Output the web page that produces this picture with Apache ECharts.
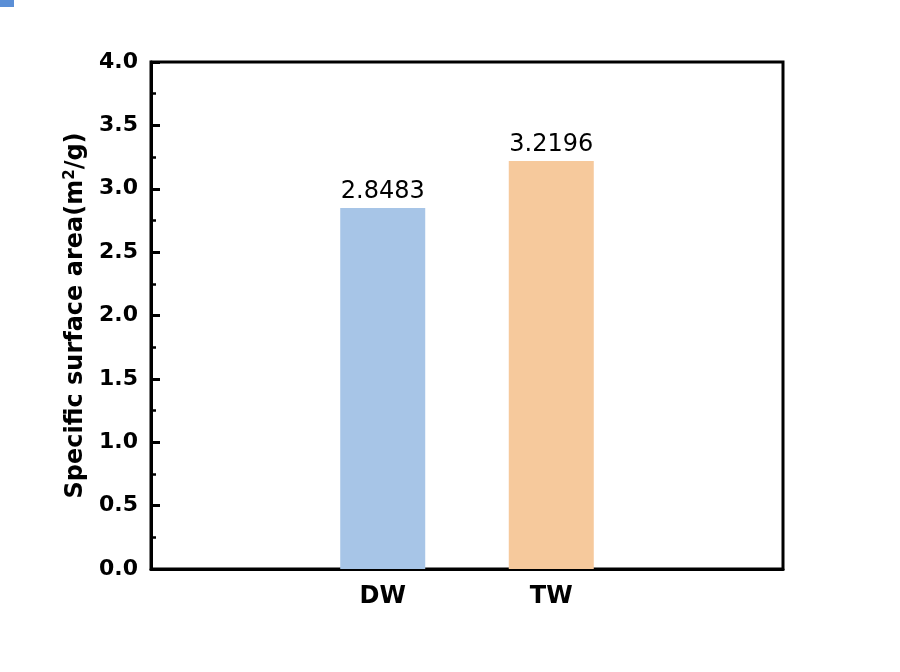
<!DOCTYPE html>
<html>
<head>
<meta charset="utf-8">
<script src="https://cdn.jsdelivr.net/npm/echarts@6/dist/echarts.min.js"></script>
<style>
  html, body { margin: 0; padding: 0; background: #fff; }
  #chart { width: 900px; height: 672px; }
</style>
</head>
<body>
<div id="chart"></div>
<script>
const categories = ['DW', 'TW'];
const positions = [1, 2];
const values = [2.8483, 3.2196];
const barColors = ['#a7c5e7', '#f6c99c'];

const font = 'DejaVu Sans';
const chart = echarts.init(document.getElementById('chart'));

chart.setOption({
  animation: false,
  backgroundColor: '#fff',
  graphic: [{
    type: 'rect',
    left: 0, top: 0,
    shape: {width: 14, height: 7},
    style: {fill: '#5b8fd6'}
  }],
  grid: {
    left: 151, right: 117, top: 62, bottom: 103,
    show: true,
    borderColor: '#000',
    borderWidth: 3,
    backgroundColor: 'transparent'
  },
  xAxis: {
    type: 'value',
    min: -0.375,
    max: 3.375,
    splitLine: {show: false},
    axisLine: {show: true, onZero: false, lineStyle: {color: '#000', width: 3}},
    axisTick: {show: false},
    axisLabel: {
      customValues: positions,
      formatter: v => categories[positions.indexOf(v)] || '',
      color: '#000',
      fontFamily: font,
      fontWeight: 'bold',
      fontSize: 24,
      margin: 16
    }
  },
  yAxis: {
    type: 'value',
    min: 0,
    max: 4,
    interval: 0.5,
    name: 'Specific surface area(m{sup|2}/g)',
    nameLocation: 'middle',
    nameGap: 56,
    nameTextStyle: {
      color: '#000',
      fontFamily: font,
      fontWeight: 'bold',
      fontSize: 24,
      rich: {
        sup: {fontFamily: font, fontWeight: 'bold', fontSize: 15, verticalAlign: 'top', padding: [0, 0, 12, 0]}
      }
    },
    splitLine: {show: false},
    axisLine: {show: true, onZero: false, lineStyle: {color: '#000', width: 3}},
    axisTick: {show: true, inside: true, length: 9, lineStyle: {color: '#000', width: 3}},
    minorTick: {show: true, splitNumber: 2, length: 5, lineStyle: {color: '#000', width: 2.5}},
    axisLabel: {
      color: '#000',
      fontFamily: font,
      fontWeight: 'bold',
      fontSize: 22,
      margin: 13,
      formatter: v => v.toFixed(1)
    }
  },
  series: [{
    type: 'bar',
    barWidth: 85,
    data: positions.map((p, i) => ({
      value: [p, values[i]],
      itemStyle: {color: barColors[i]}
    })),
    label: {
      show: true,
      position: 'top',
      distance: 4,
      color: '#000',
      fontFamily: font,
      fontSize: 24,
      formatter: p => values[p.dataIndex].toFixed(4)
    }
  }]
});
</script>
</body>
</html>
